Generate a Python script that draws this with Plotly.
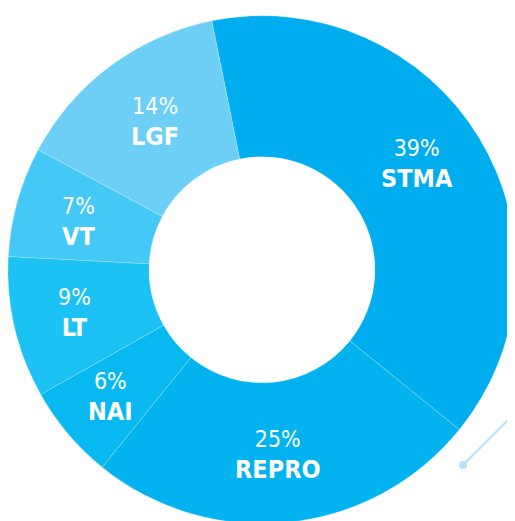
import math
import plotly.graph_objects as go

# ---- data ----
labels = ["STMA", "REPRO", "NAI", "LT", "VT", "LGF"]
values = [39, 25, 6, 9, 7, 14]
pct_labels = ["39%", "25%", "6%", "9%", "7%", "14%"]
colors = ["#00AEEF", "#02B3EF", "#08B9F1", "#1BC2F3", "#44C8F5", "#6DCFF6"]

# ---- layout constants ----
# (the page body has an 8px default margin, so the figure is sized/offset to compensate)
W, H = 508, 516
ROTATION = -11.4          # degrees, clockwise from 12 o'clock
HOLE = 0.445
DOM_X = [0.0, 1.0]
DOM_Y = [0.0, 1 - 7.5 / H]
FONT = "DejaVu Sans Condensed, Liberation Sans Narrow, Arial Narrow, sans-serif"
# small per-label pixel nudges from the slice mid-point (label styling)
LABEL_NUDGE = [(-3, -10), (-3, 2), (-11, 8), (-8, 1), (-6, 2), (3, 0)]

fig = go.Figure()
fig.add_trace(go.Pie(
    labels=labels,
    values=values,
    sort=False,
    direction="clockwise",
    rotation=ROTATION,
    hole=HOLE,
    textinfo="none",
    hoverinfo="label+percent",
    marker=dict(colors=colors, line=dict(color="rgba(255,255,255,0.35)", width=0.6)),
    domain=dict(x=DOM_X, y=DOM_Y),
    showlegend=False,
))

# label placement derived from the data (mid angle of each slice, mid radius of ring)
x0, x1 = DOM_X[0] * W, DOM_X[1] * W
y0, y1 = (1 - DOM_Y[1]) * H, (1 - DOM_Y[0]) * H
cx, cy = (x0 + x1) / 2, (y0 + y1) / 2
r_out = min(x1 - x0, y1 - y0) / 2
r_in = r_out * HOLE
r_txt = (r_out + r_in) / 2 + 1
total = sum(values)
cum = 0
for lab, pct, v, (ndx, ndy) in zip(labels, pct_labels, values, LABEL_NUDGE):
    a = math.radians(ROTATION + (cum + v / 2) / total * 360)
    cum += v
    px = cx + r_txt * math.sin(a) + ndx
    py = cy - r_txt * math.cos(a) + ndy
    fig.add_annotation(
        x=px / W, y=1 - py / H, xref="paper", yref="paper",
        xanchor="center", yanchor="middle", showarrow=False,
        text=f"<span style='font-size:23px'>{pct}</span><br><b style='font-size:25px'>{lab}</b>",
        font=dict(family=FONT, size=24, color="white"),
        align="center",
    )

# decorative leader line with dot (bottom right)
deco_line_x = [455, 512]
deco_line_y = [457, 400]
fig.add_shape(type="line", xref="paper", yref="paper",
              x0=deco_line_x[0] / W, y0=1 - deco_line_y[0] / H,
              x1=deco_line_x[1] / W, y1=1 - deco_line_y[1] / H,
              line=dict(color="#B5E3F8", width=2))
fig.add_shape(type="circle", xref="paper", yref="paper",
              x0=(deco_line_x[0] - 4) / W, y0=1 - (deco_line_y[0] + 4) / H,
              x1=(deco_line_x[0] + 4) / W, y1=1 - (deco_line_y[0] - 4) / H,
              fillcolor="#B5E3F8", line=dict(width=0))

fig.update_layout(
    width=W, height=H,
    margin=dict(l=0, r=0, t=0, b=0),
    paper_bgcolor="white",
    plot_bgcolor="white",
)

fig.write_html("out.html")
